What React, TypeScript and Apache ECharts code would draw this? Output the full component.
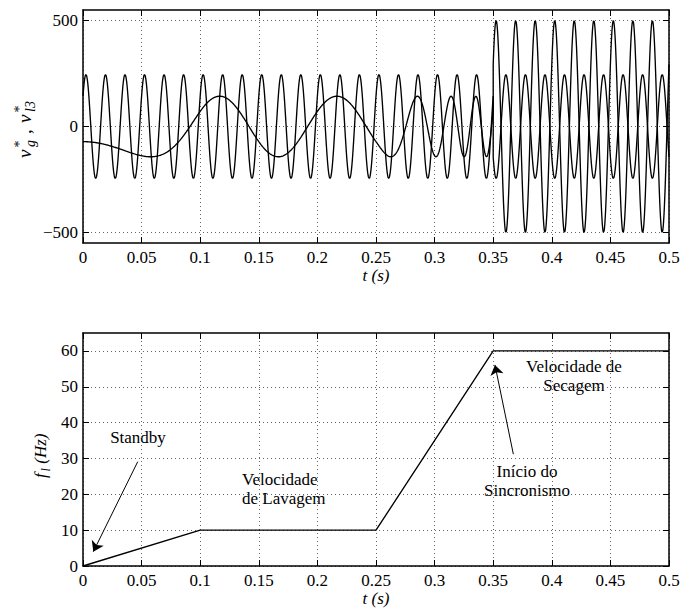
import React, { useEffect, useRef } from "react";
import * as echarts from "echarts";

const FONT = '"Liberation Serif", "Times New Roman", Times, serif';

// tick values
const timeTicks = [0, 0.05, 0.1, 0.15, 0.2, 0.25, 0.3, 0.35, 0.4, 0.45, 0.5];
const voltTicks = [-500, 0, 500];
const freqTicks = [0, 10, 20, 30, 40, 50, 60];

// bottom plot: load frequency profile f_l (Hz) vs t (s)
const loadTimes = [0, 0.1, 0.25, 0.35, 0.5];
const loadFreq = [0, 10, 10, 60, 60];

// top plot: waveform parameters
const gridFreq = 60; // Hz
const gridAmp = 245; // V
const gridPeakTime = 0.0025; // s, first crest of v*_g
const loadAmp = 143; // V, v*_l3 before synchronism
const loadPhaseCycles = 1 / 3; // initial phase of v*_l3 (cycles)
const syncTime = 0.35; // s
const syncAmp = 500; // V after synchronism

const freqAt = (t: number) => {
  for (let i = 0; i < loadTimes.length - 1; i++) {
    if (t <= loadTimes[i + 1] + 1e-12) {
      const a = loadTimes[i], b = loadTimes[i + 1];
      return loadFreq[i] + ((loadFreq[i + 1] - loadFreq[i]) * (t - a)) / (b - a);
    }
  }
  return loadFreq[loadFreq.length - 1];
};

const buildWaves = () => {
  const dt = 0.0002;
  const n = Math.round(timeTicks[timeTicks.length - 1] / dt);
  const vg: number[][] = [];
  const vl: number[][] = [];
  let cyc = 0;
  for (let i = 0; i <= n; i++) {
    const t = +(i * dt).toFixed(5);
    if (i > 0) cyc += 0.5 * (freqAt(t - dt) + freqAt(t)) * dt;
    const ph = 2 * Math.PI * gridFreq * (t - gridPeakTime);
    if (t <= syncTime + 1e-9) {
      vg.push([t, gridAmp * Math.cos(ph)]);
      vl.push([t, loadAmp * Math.cos(2 * Math.PI * (loadPhaseCycles + cyc))]);
    }
    if (t >= syncTime - 1e-9) {
      vg.push([t, -gridAmp * Math.cos(ph)]);
      vl.push([t, syncAmp * Math.cos(ph)]);
    }
  }
  return { vg, vl };
};

const annotations = [
  { text: "Standby", x: 138, y: 437, align: "center" },
  { text: "Velocidade\nde Lavagem", x: 242, y: 489, align: "left" },
  { text: "Velocidade de\nSecagem", x: 574, y: 376, align: "center" },
  { text: "Início do\nSincronismo", x: 527, y: 481, align: "center" },
];

const arrows = [
  { from: [0.0467, 29.1], to: [0.0088, 4.0] },
  { from: [0.3672, 31.2], to: [0.3515, 56.1] },
];

const txt = (text: string, x: number, y: number, size: number, italic: boolean) => ({
  type: "text",
  x,
  y,
  style: {
    text,
    fill: "#000",
    font: `${italic ? "italic " : ""}${size}px ${FONT}`,
    align: "left",
    textAlign: "left",
    verticalAlign: "middle",
    textVerticalAlign: "middle",
  },
});

export default function App() {
  const ref = useRef<HTMLDivElement>(null);
  useEffect(() => {
    if (!ref.current) return;
    const chart = echarts.init(ref.current, null, { renderer: "svg" });
    const { vg, vl } = buildWaves();

    const axisLine = { show: true, onZero: false, lineStyle: { color: "#000", width: 1.5 } };
    const tick = (vals?: number[]) => ({
      show: true,
      inside: true,
      length: 6,
      lineStyle: { color: "#000", width: 1 },
      ...(vals ? { customValues: vals } : {}),
    });
    const split = { show: true, lineStyle: { color: "#666", width: 1, type: [1, 3] } };
    const label = { color: "#000", fontSize: 17, fontFamily: FONT };
    const fmtT = (v: number) => String(Math.round(v * 1000) / 1000);
    const fmtV = (v: number) => (v < 0 ? "\u2212" + Math.abs(v) : String(v));

    const xAxes: any[] = [];
    const yAxes: any[] = [];
    [0, 1].forEach((g) => {
      xAxes.push({
        type: "value",
        gridIndex: g,
        min: 0,
        max: 0.5,
        interval: 0.05,
        position: "bottom",
        name: "t (s)",
        nameLocation: "middle",
        nameGap: 23,
        nameTextStyle: { ...label, fontStyle: "italic" },
        axisLine,
        axisTick: tick(),
        axisLabel: { ...label, margin: 6, formatter: fmtT },
        splitLine: split,
      });
      xAxes.push({
        type: "value",
        gridIndex: g,
        min: 0,
        max: 0.5,
        interval: 0.05,
        position: "top",
        axisLine,
        axisTick: tick(),
        axisLabel: { show: false },
        splitLine: { show: false },
      });
    });
    const yDefs = [
      { min: -550, max: 550, ticks: voltTicks },
      { min: 0, max: 65, ticks: freqTicks },
    ];
    yDefs.forEach((d, g) => {
      yAxes.push({
        type: "value",
        gridIndex: g,
        min: d.min,
        max: d.max,
        position: "left",
        axisLine,
        axisTick: tick(d.ticks),
        axisLabel: { ...label, margin: 5, formatter: fmtV, customValues: d.ticks },
        splitLine: split,
      });
      yAxes.push({
        type: "value",
        gridIndex: g,
        min: d.min,
        max: d.max,
        position: "right",
        axisLine,
        axisTick: tick(d.ticks),
        axisLabel: { show: false },
        splitLine: { show: false },
      });
    });

    const lineSeries = (data: number[][], xi: number, yi: number) => ({
      type: "line",
      xAxisIndex: xi,
      yAxisIndex: yi,
      data,
      showSymbol: false,
      symbol: "none",
      silent: true,
      lineStyle: { color: "#000", width: 1.35 },
      z: 3,
    });

    const yLabelTop = {
      type: "group",
      x: 24,
      y: 158,
      rotation: Math.PI / 2,
      children: [
        txt("v", 0, 0, 19, true),
        txt("*", 10.5, -5, 14, false),
        txt("g", 11, 6, 14, true),
        txt(",", 24, 0, 19, false),
        txt("v", 35, 0, 19, true),
        txt("*", 45.5, -5, 14, false),
        txt("l3", 46, 6, 14, true),
      ],
    };
    const yLabelBottom = {
      type: "group",
      x: 40,
      y: 478,
      rotation: Math.PI / 2,
      children: [
        txt("f", 0, 0, 17, true),
        txt("l", 6.5, 6, 12, true),
        txt(" (Hz)", 10, 0, 17, true),
      ],
    };

    const annText = annotations.map((a) => ({
      type: "text",
      x: a.x,
      y: a.y,
      style: {
        text: a.text,
        fill: "#000",
        font: `17px ${FONT}`,
        align: a.align,
        textAlign: a.align,
        verticalAlign: "middle",
        textVerticalAlign: "middle",
        lineHeight: 19,
      },
    }));

    chart.setOption({
      animation: false,
      backgroundColor: "#fff",
      grid: [
        { left: 83, right: 11, top: 10, height: 233, outerBoundsMode: "none" },
        { left: 83, right: 11, top: 333, height: 233, outerBoundsMode: "none" },
      ],
      xAxis: xAxes,
      yAxis: yAxes,
      series: [
        lineSeries(vl, 0, 0),
        lineSeries(vg, 0, 0),
        {
          ...lineSeries(
            loadTimes.map((t, i) => [t, loadFreq[i]]),
            2,
            2
          ),
          markLine: {
            silent: true,
            symbol: ["none", "arrow"],
            symbolSize: 10,
            label: { show: false },
            lineStyle: { color: "#000", type: "solid", width: 1 },
            itemStyle: { color: "#000" },
            emphasis: { disabled: true },
            data: arrows.map((a) => [{ coord: a.from }, { coord: a.to }]),
          },
        },
      ],
      graphic: [yLabelTop, yLabelBottom, ...annText],
    });
    return () => chart.dispose();
  }, []);
  return (
    <div
      ref={ref}
      style={{ position: "absolute", left: 0, top: 0, width: 680, height: 608 }}
    />
  );
}
